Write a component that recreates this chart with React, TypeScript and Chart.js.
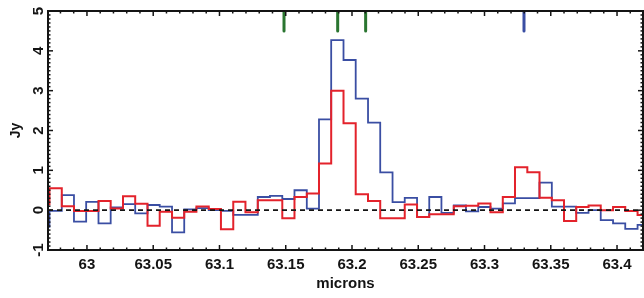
import React, { useEffect, useRef } from 'react';
import { Chart, registerables } from 'chart.js';

Chart.register(...registerables);

// Bin edges (microns), left edges of each spectral bin plus the final right edge
const binEdges = [
  62.9625, 62.9717, 62.9810, 62.9902, 62.9994, 63.0087, 63.0179, 63.0272, 63.0364, 63.0457,
  63.0549, 63.0642, 63.0734, 63.0826, 63.0919, 63.1011, 63.1104, 63.1196, 63.1289, 63.1381,
  63.1474, 63.1566, 63.1659, 63.1751, 63.1843, 63.1936, 63.2028, 63.2121, 63.2213, 63.2306,
  63.2398, 63.2491, 63.2583, 63.2675, 63.2768, 63.2860, 63.2953, 63.3045, 63.3138, 63.3230,
  63.3323, 63.3415, 63.3508, 63.3600, 63.3692, 63.3785, 63.3877, 63.3970, 63.4062, 63.4155,
  63.4247,
];

// Flux (Jy) per bin
const blueFlux = [
  -0.42, -0.02, 0.38, -0.29, 0.21, -0.33, 0.07, 0.15, -0.08, 0.13,
  0.09, -0.56, 0.02, 0.05, 0.0, -0.02, -0.12, -0.12, 0.33, 0.36,
  0.28, 0.5, 0.04, 2.28, 4.27, 3.77, 2.8, 2.2, 0.95, 0.2,
  0.31, -0.17, 0.33, -0.07, 0.12, -0.03, 0.08, 0.04, 0.17, 0.3,
  0.3, 0.69, 0.09, 0.09, -0.07, 0.0, -0.25, -0.33, -0.47, -0.37,
];

const redFlux = [
  0.15, 0.55, 0.1, -0.02, -0.02, 0.23, 0.04, 0.35, 0.16, -0.39,
  -0.04, -0.19, -0.04, 0.09, 0.03, -0.48, 0.21, -0.05, 0.25, 0.25,
  -0.2, 0.33, 0.42, 1.17, 3.0, 2.18, 0.4, 0.23, -0.2, -0.2,
  0.14, -0.17, -0.1, -0.1, 0.1, 0.11, 0.17, -0.05, 0.33, 1.08,
  0.95, 0.31, 0.25, -0.27, 0.08, 0.12, 0.0, 0.08, -0.02, -0.12,
];

// Line-position markers at the top of the plot
const greenMarkers = [63.1487, 63.1892, 63.2103];
const blueMarkers = [63.3298];
const markerTop = 5;
const markerBottom = 4.5;

const xTickValues = [63, 63.05, 63.1, 63.15, 63.2, 63.25, 63.3, 63.35, 63.4];
const yTickValues = [-1, 0, 1, 2, 3, 4, 5];

const X_MIN = 62.9706;
const X_MAX = 63.4196;
const Y_MIN = -1;
const Y_MAX = 5;

const FONT = '"Liberation Sans", Arial, Helvetica, sans-serif';
const INK = '#141414';
const BLUE = '#3a4ea3';
const RED = '#e3222b';
const GREEN = '#2a7530';

function stepData(flux: number[]) {
  return binEdges.map((x, i) => ({ x, y: flux[Math.min(i, flux.length - 1)] }));
}

const axisPlugin = {
  id: 'axisFrame',
  afterDatasetsDraw(chart: any) {
    const { ctx, chartArea: a, scales } = chart;
    const xs = scales.x;
    const ys = scales.y;
    ctx.save();
    ctx.strokeStyle = INK;
    ctx.lineWidth = 1.5;
    const seg = (x1: number, y1: number, x2: number, y2: number) => {
      ctx.beginPath();
      ctx.moveTo(x1, y1);
      ctx.lineTo(x2, y2);
      ctx.stroke();
    };
    // x ticks (major every 0.05, minor every 0.01), inward on bottom and top
    for (let i = 0; i < 60; i++) {
      const v = Math.round((62.98 + i * 0.01) * 100) / 100;
      if (v > X_MAX) break;
      const px = xs.getPixelForValue(v);
      const major = Math.abs(v * 20 - Math.round(v * 20)) < 1e-6;
      const len = major ? 5 : 2.5;
      seg(px, a.bottom, px, a.bottom - len);
      seg(px, a.top, px, a.top + len);
    }
    // y ticks (major every 1, minor every 0.1), inward on left and right
    for (let i = 0; i <= 60; i++) {
      const v = Math.round((Y_MIN + i * 0.1) * 10) / 10;
      const py = ys.getPixelForValue(v);
      const major = Math.abs(v - Math.round(v)) < 1e-6;
      const len = major ? 5 : 2.5;
      seg(a.left, py, a.left + len, py);
      seg(a.right, py, a.right - len, py);
    }
    // frame
    ctx.lineWidth = 2;
    ctx.strokeRect(a.left, a.top, a.right - a.left, a.bottom - a.top);

    // y tick labels, rotated
    ctx.fillStyle = INK;
    ctx.font = `bold 15px ${FONT}`;
    ctx.textAlign = 'center';
    ctx.textBaseline = 'middle';
    yTickValues.forEach((v) => {
      ctx.save();
      ctx.translate(a.left - 9, ys.getPixelForValue(v));
      ctx.rotate(-Math.PI / 2);
      ctx.fillText(String(v), 0, 0);
      ctx.restore();
    });
    // y title
    ctx.save();
    ctx.font = `bold 14px ${FONT}`;
    ctx.translate(16, (a.top + a.bottom) / 2);
    ctx.rotate(-Math.PI / 2);
    ctx.fillText('Jy', 0, 0);
    ctx.restore();
    ctx.restore();
  },
};

export default function App() {
  const canvasRef = useRef<HTMLCanvasElement | null>(null);

  useEffect(() => {
    document.body.style.margin = '0';
    const canvas = canvasRef.current;
    if (!canvas) return;

    const markerSets = [
      ...greenMarkers.map((m) => ({ m, color: GREEN })),
      ...blueMarkers.map((m) => ({ m, color: BLUE })),
    ].map(({ m, color }) => ({
      label: 'marker',
      data: [
        { x: m, y: markerTop },
        { x: m, y: markerBottom },
      ],
      borderColor: color,
      borderWidth: 3,
      borderCapStyle: 'round' as const,
      pointRadius: 0,
      order: 0,
    }));

    const chart = new Chart(canvas, {
      type: 'line',
      data: {
        datasets: [
          {
            label: 'zero',
            data: [
              { x: X_MIN, y: 0 },
              { x: X_MAX, y: 0 },
            ],
            borderColor: INK,
            borderWidth: 1.8,
            borderDash: [5, 4],
            pointRadius: 0,
            order: 1,
          },
          {
            label: 'red',
            data: stepData(redFlux),
            borderColor: RED,
            borderWidth: 2,
            stepped: 'before',
            pointRadius: 0,
            order: 2,
          },
          {
            label: 'blue',
            data: stepData(blueFlux),
            borderColor: BLUE,
            borderWidth: 1.8,
            stepped: 'before',
            pointRadius: 0,
            order: 3,
          },
          ...markerSets,
        ],
      },
      options: {
        animation: false,
        responsive: false,
        maintainAspectRatio: false,
        devicePixelRatio: 1,
        layout: { padding: { top: 11, right: 1, left: 0, bottom: 0 } },
        plugins: {
          legend: { display: false },
          tooltip: { enabled: false },
        },
        scales: {
          x: {
            type: 'linear',
            min: X_MIN,
            max: X_MAX,
            grid: { display: false, drawTicks: false },
            border: { display: false },
            afterBuildTicks: (scale: any) => {
              scale.ticks = xTickValues.map((v) => ({ value: v }));
            },
            afterFit: (scale: any) => {
              scale.height = 48;
            },
            ticks: {
              padding: 6,
              maxRotation: 0,
              minRotation: 0,
              autoSkip: false,
              color: INK,
              font: { family: FONT, size: 15, weight: 'bold' },
              callback: (v: any) => String(Number(Number(v).toFixed(2))),
            },
            title: {
              display: true,
              text: 'microns',
              color: INK,
              font: { family: FONT, size: 15, weight: 'bold' },
              padding: { top: 0, bottom: 5 },
            },
          },
          y: {
            type: 'linear',
            min: Y_MIN,
            max: Y_MAX,
            grid: { display: false, drawTicks: false },
            border: { display: false },
            ticks: { display: false },
            afterFit: (scale: any) => {
              scale.width = 48;
            },
          },
        },
      },
      plugins: [axisPlugin],
    });

    return () => chart.destroy();
  }, []);

  return (
    <div style={{ width: 644, height: 298, background: '#fff' }}>
      <canvas ref={canvasRef} width={644} height={298} style={{ display: 'block' }} />
    </div>
  );
}
